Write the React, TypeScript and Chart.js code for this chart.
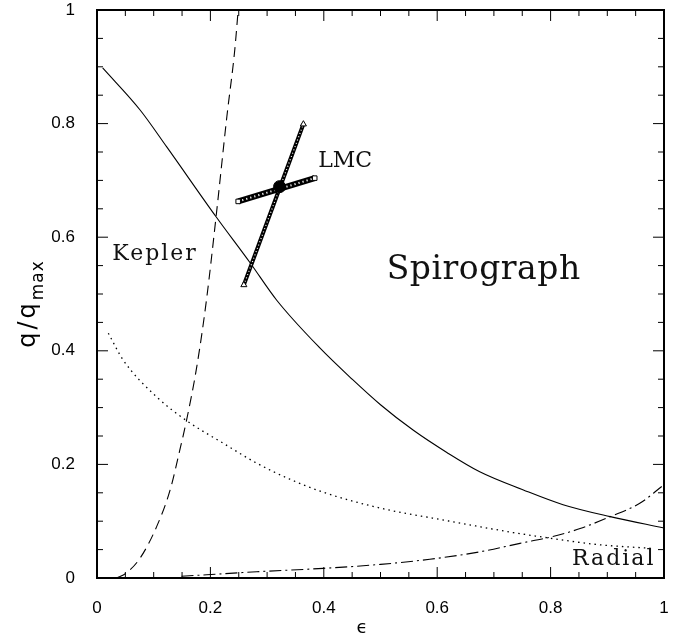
import React, { useEffect, useRef } from "react";
import { Chart, registerables } from "chart.js";

Chart.register(...registerables);

// Spirograph limit (solid)
const spiroX = [0.01, 0.076, 0.123, 0.21, 0.27, 0.317, 0.393, 0.45, 0.5, 0.558, 0.617, 0.675, 0.752, 0.822, 0.905, 1.0];
const spiroY = [0.898, 0.824, 0.759, 0.636, 0.555, 0.489, 0.405, 0.35, 0.305, 0.26, 0.221, 0.187, 0.155, 0.129, 0.108, 0.088];

// Kepler limit (dashed)
const keplerX = [0.035, 0.052, 0.076, 0.105, 0.129, 0.146, 0.158, 0.176, 0.193, 0.21, 0.229, 0.243, 0.249];
const keplerY = [0.0, 0.009, 0.035, 0.09, 0.155, 0.225, 0.278, 0.372, 0.489, 0.636, 0.812, 0.93, 1.0];

// dotted curve
const dottedX = [0.02, 0.046, 0.105, 0.158, 0.223, 0.282, 0.34, 0.399, 0.5, 0.617, 0.734, 0.793, 0.881, 0.981];
const dottedY = [0.431, 0.384, 0.319, 0.277, 0.237, 0.202, 0.174, 0.151, 0.123, 0.101, 0.08, 0.071, 0.059, 0.052];

// Radial limit (dash-dot)
const radialX = [0.149, 0.282, 0.399, 0.5, 0.587, 0.675, 0.746, 0.804, 0.852, 0.905, 0.958, 0.996];
const radialY = [0.003, 0.011, 0.017, 0.024, 0.033, 0.046, 0.061, 0.073, 0.087, 0.108, 0.132, 0.161];

// LMC cross
const lmcSquareX = [0.249, 0.384];
const lmcSquareY = [0.663, 0.704];
const lmcTriX = [0.259, 0.364];
const lmcTriY = [0.516, 0.799];
const lmcCenterX = [0.322];
const lmcCenterY = [0.689];

// axis ticks
const majorTicks = [0, 0.2, 0.4, 0.6, 0.8, 1];
const minorTicks = [0.05, 0.1, 0.15, 0.25, 0.3, 0.35, 0.45, 0.5, 0.55, 0.65, 0.7, 0.75, 0.85, 0.9, 0.95];

const pts = (xs: number[], ys: number[]) => xs.map((x, i) => ({ x, y: ys[i] }));

const framePlugin = {
  id: "frameAndText",
  afterDatasetsDraw(chart: any) {
    const { ctx, chartArea: a, scales } = chart;
    const x = scales.x;
    const y = scales.y;
    ctx.save();
    ctx.strokeStyle = "#000";
    ctx.lineWidth = 1;
    ctx.beginPath();
    const tickX = (v: number, len: number) => {
      const p = x.getPixelForValue(v);
      ctx.moveTo(p, a.bottom);
      ctx.lineTo(p, a.bottom - len);
      ctx.moveTo(p, a.top);
      ctx.lineTo(p, a.top + len);
    };
    const tickY = (v: number, len: number) => {
      const p = y.getPixelForValue(v);
      ctx.moveTo(a.left, p);
      ctx.lineTo(a.left + len, p);
      ctx.moveTo(a.right, p);
      ctx.lineTo(a.right - len, p);
    };
    majorTicks.forEach((v) => { tickX(v, 11); tickY(v, 11); });
    minorTicks.forEach((v) => { tickX(v, 6); tickY(v, 6); });
    ctx.stroke();
    ctx.lineWidth = 2;
    ctx.strokeRect(a.left, a.top, a.right - a.left, a.bottom - a.top);

    // annotations
    ctx.fillStyle = "#111";
    ctx.textBaseline = "alphabetic";
    ctx.textAlign = "left";
    ctx.font = '22px "DejaVu Serif"';
    ctx.letterSpacing = "2px";
    ctx.fillText("Kepler", x.getPixelForValue(0.027), y.getPixelForValue(0.56));
    ctx.letterSpacing = "0px";
    ctx.fillText("LMC", x.getPixelForValue(0.39), y.getPixelForValue(0.724));
    ctx.letterSpacing = "2px";
    ctx.textAlign = "right";
    ctx.fillText("Radial", x.getPixelForValue(0.985), y.getPixelForValue(0.023));
    ctx.textAlign = "center";
    ctx.letterSpacing = "0.5px";
    ctx.font = '33px "DejaVu Serif"';
    ctx.fillText("Spirograph", x.getPixelForValue(0.682), y.getPixelForValue(0.526));
    ctx.restore();

    // y-axis title q/q_max
    ctx.save();
    ctx.fillStyle = "#000";
    ctx.translate(35, 304);
    ctx.rotate(-Math.PI / 2);
    ctx.textBaseline = "alphabetic";
    ctx.textAlign = "left";
    ctx.font = '24px "DejaVu Sans"';
    ctx.letterSpacing = "3px";
    const w1 = ctx.measureText("q/q").width;
    ctx.font = '17px "DejaVu Sans"';
    ctx.letterSpacing = "1px";
    const w2 = ctx.measureText("max").width;
    const start = -(w1 + w2) / 2;
    ctx.font = '24px "DejaVu Sans"';
    ctx.letterSpacing = "3px";
    ctx.fillText("q/q", start, 0);
    ctx.font = '17px "DejaVu Sans"';
    ctx.letterSpacing = "1px";
    ctx.fillText("max", start + w1, 8);
    ctx.restore();

    // x-axis title
    ctx.save();
    ctx.fillStyle = "#000";
    ctx.font = '18px "DejaVu Sans"';
    ctx.textAlign = "center";
    ctx.textBaseline = "alphabetic";
    ctx.fillText("\u03F5", 362, 633);
    ctx.restore();
  },
};

export default function App() {
  const ref = useRef<HTMLCanvasElement | null>(null);
  useEffect(() => {
    if (!ref.current) return;
    const line = (xs: number[], ys: number[], dash: number[], width: number, order: number, color = "#000") => ({
      data: pts(xs, ys),
      showLine: true,
      borderColor: color,
      borderWidth: width,
      borderDash: dash,
      pointRadius: 0,
      cubicInterpolationMode: "monotone",
      order,
    });
    const chart = new Chart(ref.current, {
      type: "scatter",
      data: {
        datasets: [
          line(spiroX, spiroY, [], 1.1, 10),
          line(keplerX, keplerY, [10, 6], 1.1, 10),
          line(dottedX, dottedY, [1.5, 4], 1.3, 10),
          line(radialX, radialY, [12, 4, 2, 4], 1.1, 10),
          line(lmcSquareX, lmcSquareY, [], 6, 8),
          line(lmcSquareX, lmcSquareY, [1.2, 3], 2, 7, "#fff"),
          line(lmcTriX, lmcTriY, [], 4, 8),
          line(lmcTriX, lmcTriY, [1, 2.5], 1.2, 7, "#fff"),
          {
            data: pts(lmcSquareX, lmcSquareY),
            showLine: false,
            pointStyle: "rect",
            pointRadius: 3.2,
            pointBackgroundColor: "#fff",
            pointBorderColor: "#000",
            pointBorderWidth: 1,
            order: 3,
          },
          {
            data: pts(lmcTriX, lmcTriY),
            showLine: false,
            pointStyle: "triangle",
            pointRadius: 3.5,
            pointBackgroundColor: "#fff",
            pointBorderColor: "#000",
            pointBorderWidth: 1,
            order: 3,
          },
          {
            data: pts(lmcCenterX, lmcCenterY),
            showLine: false,
            pointStyle: "circle",
            pointRadius: 6,
            pointBackgroundColor: "#000",
            pointBorderColor: "#000",
            order: 1,
          },
        ] as any,
      },
      options: {
        animation: false,
        responsive: true,
        maintainAspectRatio: false,
        layout: { padding: { top: 10, right: 20, left: 0, bottom: 0 } },
        plugins: { legend: { display: false }, tooltip: { enabled: false }, title: { display: false } },
        scales: {
          x: {
            type: "linear",
            min: 0,
            max: 1,
            afterBuildTicks: (s: any) => { s.ticks = majorTicks.map((v) => ({ value: v })); },
            afterFit: (s: any) => {
              s.height = 62;
              s.paddingLeft = 0;
              s.paddingRight = 0;
            },
            grid: { display: false },
            border: { display: false },
            ticks: {
              color: "#000",
              padding: 12,
              font: { family: '"Liberation Sans"', size: 17 },
              callback: (v: any) => String(Number(Number(v).toFixed(2))),
            },
          },
          y: {
            type: "linear",
            min: 0,
            max: 1,
            afterBuildTicks: (s: any) => { s.ticks = majorTicks.map((v) => ({ value: v })); },
            afterFit: (s: any) => {
              s.width = 97;
              s.paddingTop = 0;
              s.paddingBottom = 0;
            },
            grid: { display: false },
            border: { display: false },
            ticks: {
              color: "#000",
              padding: 14,
              font: { family: '"Liberation Sans"', size: 17 },
              callback: (v: any) => String(Number(Number(v).toFixed(2))),
            },
          },
        },
      } as any,
      plugins: [framePlugin],
    });
    return () => chart.destroy();
  }, []);
  return (
    <div style={{ position: "absolute", left: 0, top: 0, width: 684, height: 640, background: "#fff" }}>
      <canvas ref={ref} />
    </div>
  );
}
